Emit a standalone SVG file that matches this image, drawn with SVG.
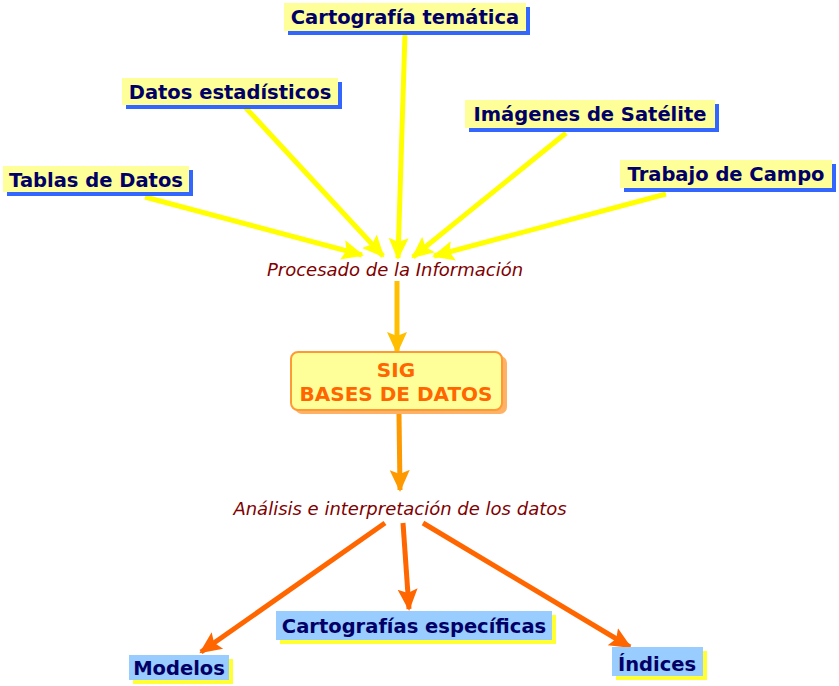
<svg xmlns="http://www.w3.org/2000/svg" width="839" height="686" viewBox="0 0 839 686">
<style>
.src rect.bg{fill:#FFFF99}
.src rect.sh{fill:#3366FF}
.out rect.bg{fill:#99CCFF}
.out rect.sh{fill:#FFFF33}
.lbl{font-family:"DejaVu Sans","Verdana",sans-serif;font-weight:bold;font-size:19.5px;fill:#000066}
.mid{font-family:"DejaVu Sans","Verdana",sans-serif;font-style:italic;font-size:18px;fill:#800000}
.sig{font-family:"DejaVu Sans","Verdana",sans-serif;font-weight:bold;font-size:20px;fill:#FF6600}
.y{stroke:#FFFF00;stroke-width:5;fill:none}
.a{stroke:#FFBF00;stroke-width:5;fill:none}
.b{stroke:#FF9900;stroke-width:5;fill:none}
.o{stroke:#FF6600;stroke-width:5;fill:none}
</style>
<defs>
<marker id="my" markerUnits="userSpaceOnUse" markerWidth="24" markerHeight="24" viewBox="0 0 24 24" refX="20" refY="12" orient="auto"><path d="M0,2 L22,12 L0,22 L4,12 z" fill="#FFFF00"/></marker>
<marker id="ma" markerUnits="userSpaceOnUse" markerWidth="24" markerHeight="24" viewBox="0 0 24 24" refX="20" refY="12" orient="auto"><path d="M0,2 L22,12 L0,22 L4,12 z" fill="#FFBF00"/></marker>
<marker id="mb" markerUnits="userSpaceOnUse" markerWidth="24" markerHeight="24" viewBox="0 0 24 24" refX="20" refY="12" orient="auto"><path d="M0,2 L22,12 L0,22 L4,12 z" fill="#FF9900"/></marker>
<marker id="mo" markerUnits="userSpaceOnUse" markerWidth="24" markerHeight="24" viewBox="0 0 24 24" refX="20" refY="12" orient="auto"><path d="M0,2 L22,12 L0,22 L4,12 z" fill="#FF6600"/></marker>
</defs>
<rect width="839" height="686" fill="#FFFFFF"/>
<g id="connectors">
<line class="y" x1="405" y1="34" x2="398" y2="258" marker-end="url(#my)"/>
<line class="y" x1="245" y1="107" x2="383" y2="256" marker-end="url(#my)"/>
<line class="y" x1="145" y1="197" x2="362" y2="255" marker-end="url(#my)"/>
<line class="y" x1="566" y1="133" x2="413" y2="257" marker-end="url(#my)"/>
<line class="y" x1="666" y1="194" x2="434" y2="256" marker-end="url(#my)"/>
<line class="a" x1="397" y1="281" x2="397" y2="352" marker-end="url(#ma)"/>
<line class="b" x1="399" y1="414" x2="400" y2="490" marker-end="url(#mb)"/>
<line class="o" x1="385" y1="523" x2="201" y2="652" marker-end="url(#mo)"/>
<line class="o" x1="403" y1="523" x2="409" y2="609" marker-end="url(#mo)"/>
<line class="o" x1="423" y1="523" x2="630" y2="647" marker-end="url(#mo)"/>
</g>
<g id="cartografia" class="src"><rect class="sh" x="288" y="7" width="242" height="28"/><rect class="bg" x="284" y="3" width="242" height="28"/><text class="lbl" x="405" y="23.5" text-anchor="middle">Cartografía temática</text></g>
<g id="datos" class="src"><rect class="sh" x="126" y="82" width="216" height="27"/><rect class="bg" x="122" y="78" width="216" height="27"/><text class="lbl" x="230" y="98.5" text-anchor="middle">Datos estadísticos</text></g>
<g id="tablas" class="src"><rect class="sh" x="7" y="170" width="186" height="26"/><rect class="bg" x="3" y="166" width="186" height="26"/><text class="lbl" x="96" y="187" text-anchor="middle">Tablas de Datos</text></g>
<g id="imagenes" class="src"><rect class="sh" x="469" y="104" width="250" height="28"/><rect class="bg" x="465" y="100" width="250" height="28"/><text class="lbl" x="590" y="121" text-anchor="middle">Imágenes de Satélite</text></g>
<g id="trabajo" class="src"><rect class="sh" x="624" y="164" width="212" height="28"/><rect class="bg" x="620" y="160" width="212" height="28"/><text class="lbl" x="726" y="181" text-anchor="middle">Trabajo de Campo</text></g>
<g id="procesado"><text class="mid" x="395" y="276" text-anchor="middle">Procesado de la Información</text></g>
<g id="sig"><rect x="295" y="356" width="212" height="58" rx="7" fill="#FFB266"/><rect x="291" y="352" width="211" height="58" rx="7" fill="#FFFF99" stroke="#FF9933" stroke-width="2"/><text class="sig" x="396" y="377" text-anchor="middle">SIG</text><text class="sig" x="396" y="401" text-anchor="middle">BASES DE DATOS</text></g>
<g id="analisis"><text class="mid" x="400" y="515" text-anchor="middle">Análisis e interpretación de los datos</text></g>
<g id="cartografias" class="out"><rect class="sh" x="280" y="615" width="276" height="29"/><rect class="bg" x="276" y="611" width="276" height="29"/><text class="lbl" x="414" y="633" text-anchor="middle">Cartografías específicas</text></g>
<g id="modelos" class="out"><rect class="sh" x="133" y="659" width="100" height="25"/><rect class="bg" x="129" y="655" width="100" height="25"/><text class="lbl" x="179" y="675" text-anchor="middle">Modelos</text></g>
<g id="indices" class="out"><rect class="sh" x="616" y="651" width="91" height="29"/><rect class="bg" x="612" y="647" width="91" height="29"/><text class="lbl" x="657" y="671" text-anchor="middle">Índices</text></g>
</svg>
